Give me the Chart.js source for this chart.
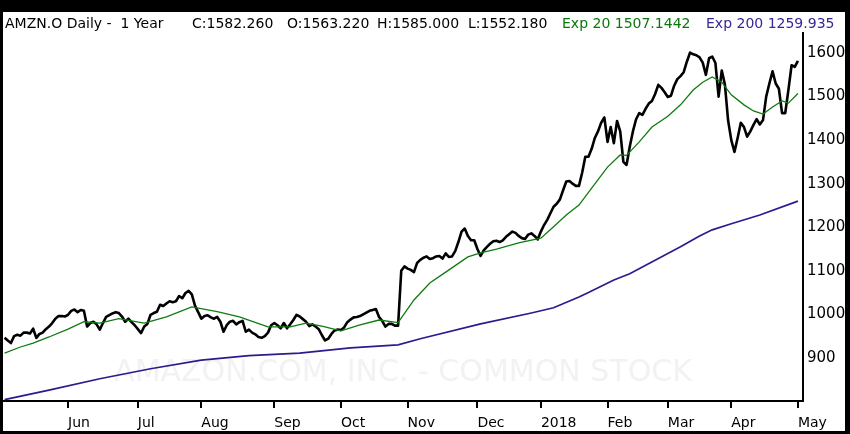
<!DOCTYPE html>
<html><head><meta charset="utf-8">
<script src="https://cdn.jsdelivr.net/npm/chart.js@4.4.1/dist/chart.umd.min.js"></script>
<style>
html,body{margin:0;padding:0;background:#000;width:850px;height:434px;overflow:hidden}
#wrap{position:absolute;left:3px;top:12px;width:842px;height:419px;background:#fff}
canvas{display:block}
</style></head><body>
<div id="wrap"><canvas id="c" width="842" height="419"></canvas></div>
<script>
// ---- data ----
const monthLabels = ['Jun','Jul','Aug','Sep','Oct','Nov','Dec','2018','Feb','Mar','Apr','May'];
const monthTickDays = [20,42,62,85,106,127,149,169,190,209,229,250];
const yTickValues = [900,1000,1100,1200,1300,1400,1500,1600];

const priceClose = [
 946,940,934,950,953,951,958,958,956,967,
 946,955,958,966,972,980,990,996,996,995,
 999,1008,1011,1005,1010,1008,972,980,983,977,
 965,980,994,998,1002,1005,1003,995,983,990,
 982,975,966,957,972,978,999,1003,1006,1022,
 1019,1025,1030,1028,1030,1042,1037,1049,1054,1046,
 1020,1005,990,996,998,993,990,994,983,960,
 975,983,985,977,982,985,960,965,958,954,
 948,946,950,958,975,980,975,968,980,968,
 977,987,999,995,989,983,973,977,972,966,
 952,940,944,955,963,965,964,970,982,988,
 993,994,996,1000,1004,1008,1010,1012,994,985,
 972,978,978,974,974,1100,1110,1105,1102,1097,
 1118,1125,1130,1133,1127,1129,1133,1134,1128,1140,
 1132,1133,1145,1166,1190,1197,1180,1170,1170,1150,
 1134,1147,1155,1162,1168,1169,1166,1170,1178,1184,
 1190,1187,1180,1175,1173,1183,1186,1180,1172,1190,
 1205,1217,1232,1247,1254,1264,1285,1305,1306,1300,
 1295,1295,1325,1362,1362,1380,1405,1420,1440,1452,
 1396,1430,1393,1444,1420,1350,1343,1385,1420,1448,
 1462,1458,1472,1484,1490,1506,1527,1520,1510,1499,
 1502,1525,1540,1547,1556,1580,1601,1597,1595,1590,
 1578,1550,1588,1592,1577,1500,1560,1527,1445,1400,
 1373,1405,1440,1430,1408,1420,1435,1448,1436,1446,
 1500,1530,1558,1530,1518,1462,1462,1515,1572,1568,
 1582
];

const ema20Days = [0,5,9,14,20,25,30,36,44,51,59,67,74,83,90,95,100,106,112,118,124,129,134,139,146,150,155,162,169,173,177,181,185,190,194,196,200,204,209,213,217,220,223,226,229,233,236,239,242,245,247,250];
const ema20Values = [911,925,934,948,966,983,980,990,980,994,1017,1006,994,971,971,980,973,962,976,987,981,1033,1072,1097,1132,1141,1150,1164,1175,1201,1228,1251,1290,1338,1366,1365,1396,1430,1455,1481,1515,1533,1545,1533,1504,1481,1467,1460,1476,1490,1485,1507];

const ema200Days = [0,14,30,46,62,77,93,109,124,131,150,166,173,181,184,192,197,213,219,223,229,238,250];
const ema200Values = [804,826,852,875,895,905,911,923,930,944,978,1003,1015,1040,1050,1079,1093,1155,1180,1194,1208,1228,1260];

const titleParts = [
  ['AMZN.O Daily -  1 Year', '#000', 2],
  ['C:1582.260', '#000', 189],
  ['O:1563.220', '#000', 284],
  ['H:1585.000', '#000', 374],
  ['L:1552.180', '#000', 465],
  ['Exp 20 1507.1442', '#0b760b', 559],
  ['Exp 200 1259.935', '#3b2693', 703]
];
const watermark = 'AMAZON.COM, INC. - COMMON STOCK';

// ---- build ----
const pricePts = priceClose.map((v,i)=>({x:i,y:v}));
const ema20Pts = ema20Days.map((d,i)=>({x:d,y:ema20Values[i]}));
const ema200Pts = ema200Days.map((d,i)=>({x:d,y:ema200Values[i]}));

const FONT = '"DejaVu Sans", Verdana, sans-serif';

const overlay = {
  id:'overlay',
  beforeDatasetsDraw(chart){
    const {ctx, chartArea:a} = chart;
    ctx.save();
    ctx.font = '30px ' + FONT;
    ctx.fillStyle = '#f2f2f2';
    ctx.textAlign = 'center';
    ctx.textBaseline = 'middle';
    ctx.fillText(watermark, (a.left + a.right)/2, a.bottom - 28);
    ctx.restore();
  },
  afterDraw(chart){
    const ctx = chart.ctx;
    ctx.save();
    ctx.font = '14px ' + FONT;
    ctx.textBaseline = 'alphabetic';
    ctx.textAlign = 'left';
    titleParts.forEach(p=>{ ctx.fillStyle = p[1]; ctx.fillText(p[0], p[2], 16); });
    ctx.restore();
  }
};

new Chart(document.getElementById('c'), {
  type:'line',
  data:{ datasets:[
    { data: ema200Pts, borderColor:'#2b1b8e', borderWidth:1.7, pointRadius:0, tension:0, fill:false },
    { data: ema20Pts, borderColor:'#127a12', borderWidth:1.3, pointRadius:0, tension:0, fill:false },
    { data: pricePts, borderColor:'#000', borderWidth:2.6, pointRadius:0, tension:0, fill:false, borderJoinStyle:'round' }
  ]},
  options:{
    responsive:false, animation:false, devicePixelRatio:1,
    layout:{ padding:{ top:21, left:0, right:0, bottom:0 } },
    plugins:{ legend:{display:false}, tooltip:{enabled:false}, title:{display:false} },
    scales:{
      x:{
        type:'linear', position:'bottom', min:-0.5, max:251.6,
        afterBuildTicks(s){ s.ticks = monthTickDays.map(v=>({value:v})); },
        afterFit(s){ s.height = 30; },
        ticks:{ autoSkip:false, maxRotation:0, minRotation:0, align:'start', padding:7, color:'#000',
          font:{ family:FONT, size:14 },
          callback:(v)=>{ const k = monthTickDays.indexOf(v); return k>=0 ? monthLabels[k] : ''; } },
        grid:{ display:true, drawOnChartArea:false, drawTicks:true, tickLength:7, color:'#000', lineWidth:2 },
        border:{ display:true, color:'#000', width:2 }
      },
      y:{
        type:'linear', position:'right', min:801, max:1646,
        afterBuildTicks(s){ s.ticks = yTickValues.map(v=>({value:v})); },
        afterFit(s){ s.width = 42; },
        ticks:{ padding:4, color:'#000', font:{ family:FONT, size:15 }, callback:(v)=>String(v) },
        grid:{ display:false, drawTicks:false },
        border:{ display:true, color:'#000', width:2 }
      }
    }
  },
  plugins:[overlay]
});
</script>
</body></html>
